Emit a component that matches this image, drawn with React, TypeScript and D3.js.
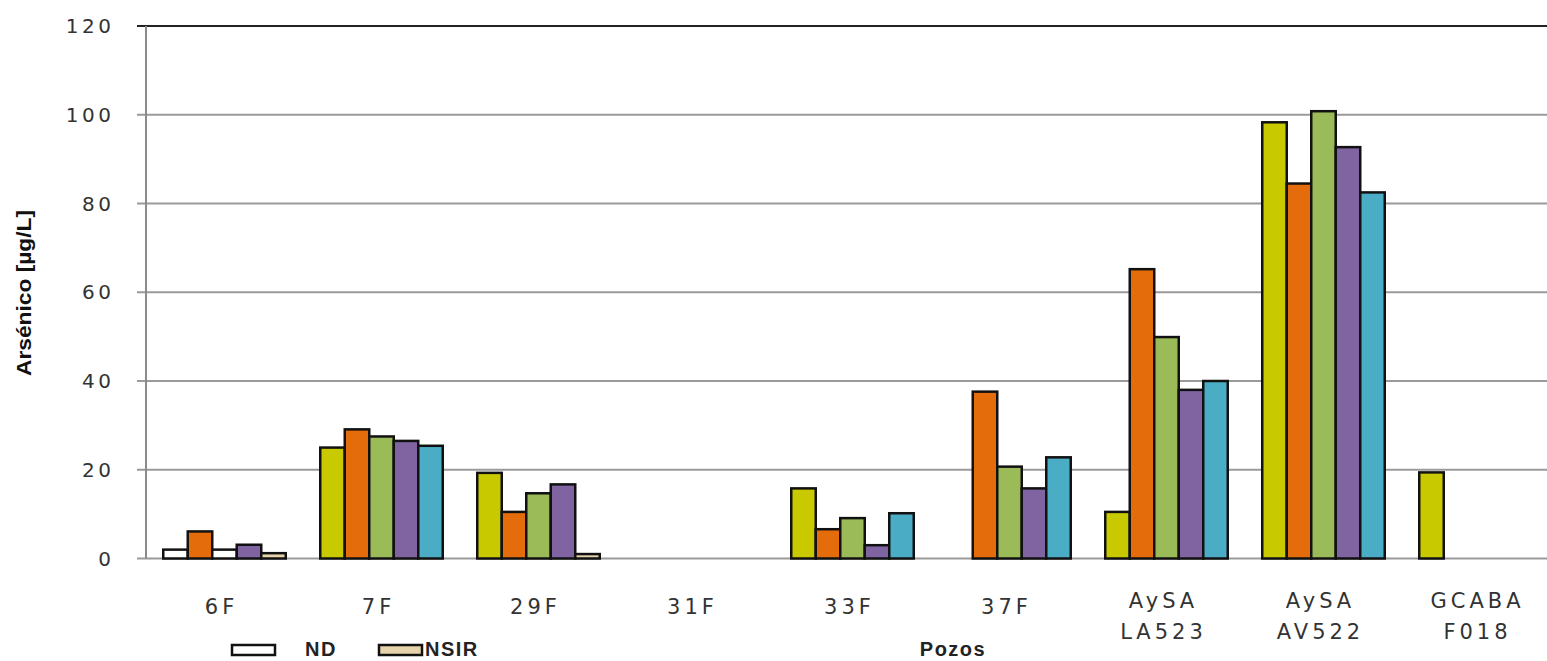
import React from "react";
import * as d3 from "d3";

const categories = ["6F", "7F", "29F", "31F", "33F", "37F", "AySA\nLA523", "AySA\nAV522", "GCABA\nF018"];
const serie1: (number | null)[] = [2, 25, 19.3, null, 15.8, null, 10.5, 98.3, 19.4];
const serie2: (number | null)[] = [6.1, 29.1, 10.5, null, 6.6, 37.6, 65.2, 84.5, null];
const serie3: (number | null)[] = [2, 27.5, 14.7, null, 9.1, 20.7, 49.9, 100.8, null];
const serie4: (number | null)[] = [3.1, 26.5, 16.7, null, 3.0, 15.8, 38, 92.7, null];
const serie5: (number | null)[] = [1.2, 25.4, 1.0, null, 10.2, 22.8, 40, 82.5, null];
const seriesValues = [serie1, serie2, serie3, serie4, serie5];
const seriesColors = ["#c9c900", "#e46c0a", "#9bbb59", "#8064a2", "#4bacc6"];
// cells flagged as ND / NSIR: [category index, series index]
const ndCells: [number, number][] = [[0, 0], [0, 2]];
const nsirCells: [number, number][] = [[0, 4], [2, 4]];
const yTicks = [0, 20, 40, 60, 80, 100, 120];
const legendItems = ["ND", "NSIR"];
const legendColors = ["#ffffff", "#e6d3ac"];
const xTitle = "Pozos";
const yTitle = "Arsénico [µg/L]";

export default function App() {
  const W = 1547, H = 661;
  const left = 146, top = 26, bottom = 558.5;
  const step = 157;
  const x = d3.scaleBand<string>().domain(categories).range([left, left + step * categories.length]).padding(0);
  const y = d3.scaleLinear().domain([0, 120]).range([bottom, top]);
  const barW = 24.5;
  const font = "'DejaVu Sans', Verdana, sans-serif";
  const boldFont = "'Liberation Sans', Arial, sans-serif";
  const ySp = 3.5, xSp = 4;

  const fillFor = (ci: number, si: number) => {
    if (ndCells.some(([a, b]) => a === ci && b === si)) return legendColors[0];
    if (nsirCells.some(([a, b]) => a === ci && b === si)) return legendColors[1];
    return seriesColors[si];
  };

  const bars: JSX.Element[] = [];
  categories.forEach((c, ci) => {
    const cx = (x(c) as number) + x.bandwidth() / 2;
    const x0 = cx - (barW * seriesValues.length) / 2;
    seriesValues.forEach((s, si) => {
      const v = s[ci];
      if (v == null) return;
      bars.push(
        <rect key={`${ci}-${si}`} x={x0 + si * barW} y={y(v)} width={barW} height={y(0) - y(v)}
          fill={fillFor(ci, si)} stroke="#111" strokeWidth={2.5} />
      );
    });
  });

  return (
    <div style={{ position: "absolute", left: 0, top: 0 }}>
      <svg width={W} height={H} style={{ display: "block", background: "#fff" }}>
        {yTicks.map((t) => (
          <g key={t}>
            <line x1={left - 9} x2={W} y1={y(t)} y2={y(t)} stroke={t === 120 ? "#222" : "#9a9a9a"} strokeWidth={2} />
            <text x={111 + ySp} y={y(t)} dy="0.36em" textAnchor="end" fontFamily={font} fontSize={20} letterSpacing={ySp} fill="#333">{t}</text>
          </g>
        ))}
        <line x1={left} x2={left} y1={top} y2={bottom} stroke="#8a8a8a" strokeWidth={2} />
        {bars}
        {categories.map((c) => {
          const cx = (x(c) as number) + x.bandwidth() / 2;
          const lines = c.split("\n");
          return (
            <text key={c} textAnchor="middle" fontFamily={font} fontSize={21} letterSpacing={xSp} fill="#333">
              {lines.map((l, i) => (
                <tspan key={i} x={cx + xSp / 2 - 5} y={lines.length === 1 ? 614 : 608 + i * 31}>{l}</tspan>
              ))}
            </text>
          );
        })}
        <text transform="translate(31,293) rotate(-90)" textAnchor="middle" fontFamily="'Liberation Sans Narrow', 'Liberation Sans', Arial, sans-serif"
          fontWeight="bold" fontSize={20} textLength={166} lengthAdjust="spacingAndGlyphs" fill="#111">{yTitle}</text>
        <text x={953} y={656} textAnchor="middle" fontFamily={boldFont} fontWeight="bold" fontSize={20} letterSpacing={1.5} fill="#222">{xTitle}</text>
        {legendItems.map((l, i) => {
          const bx = i === 0 ? 232 : 379;
          const tx = i === 0 ? 305 : 425;
          return (
            <g key={l}>
              <rect x={bx} y={645} width={43} height={10} fill={legendColors[i]} stroke="#111" strokeWidth={2.5} />
              <text x={tx} y={656} fontFamily={boldFont} fontWeight="bold" fontSize={20} letterSpacing={1.5} fill="#222">{l}</text>
            </g>
          );
        })}
      </svg>
    </div>
  );
}
